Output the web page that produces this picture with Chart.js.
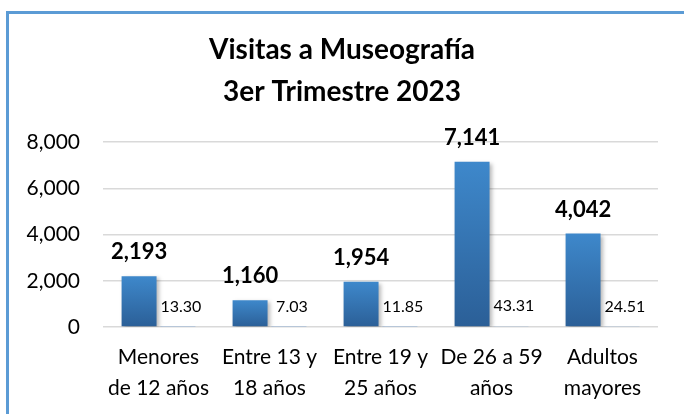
<!DOCTYPE html>
<html>
<head>
<meta charset="utf-8">
<script src="https://cdn.jsdelivr.net/npm/chart.js@4.4.0/dist/chart.umd.min.js"></script>
<style>
  body { margin: 0; background: #fff; }
  #wrap { width: 684px; height: 414px; position: relative; }
</style>
</head>
<body>
<div id="wrap"><canvas id="chart"></canvas></div>
<script>
// categories and values
const categories = [
    ["Menores", "de 12 años"],
    ["Entre 13 y", "18 años"],
    ["Entre 19 y", "25 años"],
    ["De 26 a 59", "años"],
    ["Adultos", "mayores"]
];
const visitas = [2193, 1160, 1954, 7141, 4042];
const porcentaje = [13.30, 7.03, 11.85, 43.31, 24.51];
const titleLines = ["Visitas a Museografía", "3er Trimestre 2023"];

const FONT = "Lato, 'Open Sans', sans-serif";

// white page + blue frame on top/left
const framePlugin = {
    id: "frame",
    beforeDraw(chart) {
        const ctx = chart.ctx;
        ctx.save();
        ctx.fillStyle = "#fff";
        ctx.fillRect(0, 0, chart.width, chart.height);
        ctx.strokeStyle = "#5b9bd5";
        ctx.lineWidth = 3;
        ctx.beginPath();
        ctx.moveTo(7.5, chart.height);
        ctx.lineTo(7.5, 12.5);
        ctx.lineTo(chart.width, 12.5);
        ctx.stroke();
        ctx.restore();
    }
};

// soft shadow under the main bars
const shadowPlugin = {
    id: "barShadow",
    beforeDatasetDraw(chart, args) {
        if (args.index !== 0) return;
        const ctx = chart.ctx;
        ctx.save();
        ctx.shadowColor = "rgba(0,0,0,0.28)";
        ctx.shadowBlur = 4;
        ctx.shadowOffsetX = 2;
        ctx.shadowOffsetY = 2;
    },
    afterDatasetDraw(chart, args) {
        if (args.index !== 0) return;
        chart.ctx.restore();
    }
};

// value labels above bars
const labelPlugin = {
    id: "valueLabels",
    afterDatasetsDraw(chart) {
        const ctx = chart.ctx;
        ctx.save();
        ctx.fillStyle = "#000";
        ctx.textAlign = "center";
        ctx.textBaseline = "middle";
        ctx.font = "bold 22px " + FONT;
        chart.getDatasetMeta(0).data.forEach((bar, i) => {
            ctx.fillText(visitas[i].toLocaleString("en-US"), bar.x, bar.y - 24);
        });
        ctx.font = "16px " + FONT;
        chart.getDatasetMeta(1).data.forEach((bar, i) => {
            ctx.fillText(porcentaje[i].toFixed(2), bar.x + 3, bar.y - 20);
        });
        ctx.restore();
    }
};

function barGradient(context) {
    const chart = context.chart;
    if (!chart.chartArea) return "#3a7fc1";
    const y = chart.scales.y;
    const top = y.getPixelForValue(context.raw);
    const bottom = y.getPixelForValue(0);
    const g = chart.ctx.createLinearGradient(0, top, 0, bottom);
    g.addColorStop(0, "#3e88cb");
    g.addColorStop(1, "#2b5f97");
    return g;
}

new Chart(document.getElementById("chart"), {
    type: "bar",
    data: {
        labels: categories,
        datasets: [
            {
                label: "Visitas",
                data: visitas,
                backgroundColor: barGradient,
                categoryPercentage: 0.7,
                barPercentage: 0.9
            },
            {
                label: "Porcentaje",
                data: porcentaje,
                backgroundColor: "#95b3d7",
                categoryPercentage: 0.7,
                barPercentage: 0.9
            }
        ]
    },
    options: {
        responsive: true,
        maintainAspectRatio: false,
        animation: false,
        layout: { padding: 0 },
        plugins: {
            legend: { display: false },
            tooltip: { enabled: false },
            title: {
                display: true,
                text: titleLines,
                color: "#000",
                font: { family: FONT, size: 28, weight: "bold", lineHeight: 1.5 },
                padding: { top: 29, bottom: 29 }
            }
        },
        scales: {
            x: {
                afterFit: (s) => { s.height = 87; },
                grid: { display: false, drawTicks: false },
                border: { display: false },
                ticks: {
                    color: "#000",
                    font: { family: FONT, size: 21, lineHeight: 1.48 },
                    padding: 15,
                    maxRotation: 0,
                    autoSkip: false
                }
            },
            y: {
                min: 0,
                max: 8000,
                afterFit: (s) => { s.width = 103; },
                grid: { color: "#d9d9d9", lineWidth: 1.5, drawTicks: false },
                border: { display: false },
                ticks: {
                    stepSize: 2000,
                    color: "#000",
                    padding: 23,
                    font: { family: FONT, size: 21 },
                    callback: (v) => v.toLocaleString("en-US")
                }
            },
            // empty spacer on the right so the plot ends where the reference does
            spacer: {
                position: "right",
                afterFit: (s) => { s.width = 26; },
                grid: { display: false, drawTicks: false },
                border: { display: false },
                ticks: { display: false }
            }
        }
    },
    plugins: [framePlugin, shadowPlugin, labelPlugin]
});
</script>
</body>
</html>
